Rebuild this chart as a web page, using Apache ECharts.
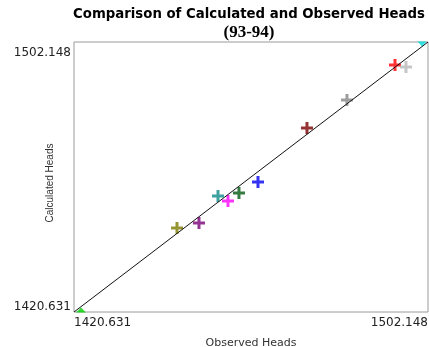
<!DOCTYPE html>
<html>
<head>
<meta charset="utf-8">
<script src="https://cdn.jsdelivr.net/npm/echarts@6/dist/echarts.min.js"></script>
<style>
  html, body { margin: 0; padding: 0; background: #fff; }
  #chart { width: 429px; height: 347px; }
</style>
</head>
<body>
<div id="chart"></div>
<script>
// axis range (min / max of both heads)
const headMin = 1420.631;
const headMax = 1502.148;

// one marker per well: observed (x) vs calculated (y)
const wells = ['w1', 'w2', 'w3', 'w4', 'w5', 'w6', 'w7', 'w8', 'w9', 'w10', 'w11', 'w12'];
const observed = [1422.24, 1444.35, 1449.41, 1453.79, 1456.09, 1458.62, 1463.00, 1474.28, 1483.49, 1494.55, 1497.08, 1500.76];
const calculated = [1421.23, 1445.99, 1447.50, 1455.65, 1454.14, 1456.56, 1459.88, 1476.19, 1484.64, 1495.20, 1494.60, 1501.54];
const colors = ['#00d000', '#7a7a00', '#7a007a', '#108a8a', '#ff00ff', '#005a10', '#0000ee', '#7a0000', '#858585', '#ff0000', '#b8b8b8', '#00dede'];

const plus = 'path://M0,4.5H12V7.5H0Z M4.5,0H7.5V12H4.5Z';

const chart = echarts.init(document.getElementById('chart'));

const points = observed.map((x, i) => {
  const item = {
    name: wells[i],
    value: [x, calculated[i]],
    itemStyle: { color: colors[i] },
  };
  // the two corner markers are cut by the frame in the original
  if (i === 0) {
    item.symbol = 'triangle';
    item.symbolSize = [10, 5];
  } else if (i === observed.length - 1) {
    item.symbol = 'triangle';
    item.symbolRotate = 180;
    item.symbolSize = [9, 5];
  }
  return item;
});

const labelStyle = { fontFamily: 'DejaVu Sans', fontSize: 12, color: '#222' };

const option = {
  backgroundColor: '#fff',
  animation: false,
  title: [
    {
      text: 'Comparison of Calculated and Observed Heads',
      left: 244,
      top: 3,
      textAlign: 'center',
      textStyle: {
        fontFamily: 'DejaVu Sans',
        fontWeight: 'bold',
        fontSize: 13.3,
        color: '#000',
      },
    },
    {
      text: '(93-94)',
      left: 244,
      top: 19,
      textAlign: 'center',
      textStyle: {
        fontFamily: 'Liberation Serif',
        fontWeight: 'bold',
        fontSize: 17,
        color: '#000',
      },
    },
  ],
  grid: {
    left: 74,
    top: 42,
    right: 1,
    bottom: 35,
    outerBoundsMode: 'none',
    containLabel: false,
    show: true,
    borderColor: '#9a9a9a',
    borderWidth: 1,
    backgroundColor: '#fff',
  },
  xAxis: {
    type: 'value',
    min: headMin,
    max: headMax,
    name: 'Observed Heads',
    nameLocation: 'middle',
    nameGap: 26,
    nameMoveOverlap: false,
    nameTextStyle: { fontFamily: 'DejaVu Sans', fontSize: 11, color: '#333' },
    splitLine: { show: false },
    axisTick: { show: false },
    axisLine: { show: false },
    axisLabel: Object.assign({
      customValues: [headMin, headMax],
      formatter: (v) => v.toFixed(3),
      alignMinLabel: 'left',
      alignMaxLabel: 'right',
      margin: 5,
    }, labelStyle),
  },
  yAxis: {
    type: 'value',
    min: headMin,
    max: headMax,
    name: 'Calculated Heads',
    nameLocation: 'middle',
    nameGap: 19,
    nameMoveOverlap: false,
    nameTextStyle: { fontFamily: 'Liberation Sans', fontSize: 10, color: '#333', padding: [0, 12, 0, 0] },
    splitLine: { show: false },
    axisTick: { show: false },
    axisLine: { show: false },
    axisLabel: Object.assign({
      customValues: [headMin, headMax],
      formatter: (v) => (v < (headMin + headMax) / 2 ? '{lo|' : '{hi|') + v.toFixed(3) + '}',
      margin: 3,
      rich: {
        lo: Object.assign({ padding: [0, 0, 10, 0] }, labelStyle),
        hi: Object.assign({ padding: [22, 0, 0, 0] }, labelStyle),
      },
    }, labelStyle),
  },
  series: [
    {
      type: 'line',
      data: [[headMin, headMin], [headMax, headMax]],
      symbol: 'none',
      lineStyle: { color: '#111', width: 1 },
      silent: true,
    },
    {
      type: 'scatter',
      symbol: plus,
      symbolSize: 12,
      data: points,
    },
  ],
};

chart.setOption(option);
</script>
</body>
</html>
